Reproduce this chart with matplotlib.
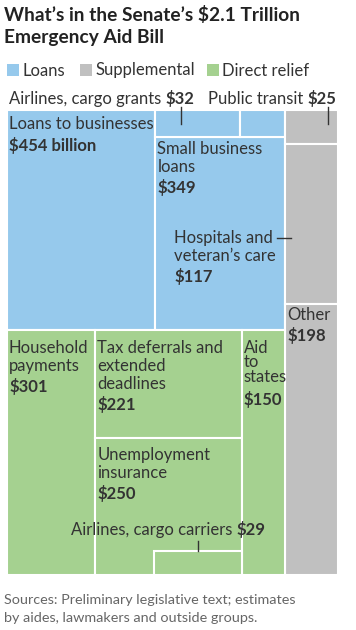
import matplotlib
matplotlib.use('Agg')
import matplotlib.pyplot as plt
from matplotlib.patches import Rectangle

plt.rcParams['font.family'] = ['Lato', 'DejaVu Sans']

# values in billions of dollars
loan_names = ['Loans to businesses', 'Small business\nloans', 'Airlines, cargo grants', '']
loan_vals = [454, 349, 32, 17]
supp_names = ['Public transit', 'Hospitals and\nveteran\u2019s care', 'Other']
supp_vals = [25, 117, 198]
direct_names = ['Household\npayments', 'Tax deferrals and\nextended\ndeadlines',
                'Unemployment\ninsurance', 'Aid\nto\nstates', 'Airlines, cargo carriers']
direct_vals = [301, 221, 250, 150, 29]
groups = ['Loans', 'Supplemental', 'Direct relief']

BLUE = '#96c9ec'
GRAY = '#c0c0c0'
GREEN = '#a5d190'
TXT = '#333333'
FS = 12

fig = plt.figure(figsize=(3.56, 6.30), dpi=100)
ax = fig.add_axes([0, 0, 1, 1])
ax.set_xlim(0, 356)
ax.set_ylim(630, 0)
ax.axis('off')
r = fig.canvas.get_renderer()


def slice_(x, y, w, h, vals, across):
    tot = float(sum(vals))
    out = []
    for v in vals:
        if across:
            dw = w * v / tot
            out.append((x, y, dw, h))
            x += dw
        else:
            dh = h * v / tot
            out.append((x, y, w, dh))
            y += dh
    return out


def box(rc, col):
    ax.add_patch(Rectangle((rc[0], rc[1]), rc[2], rc[3], facecolor=col,
                           edgecolor='white', lw=1.5))


def label(x, y, name, val, ls=1.15, gap=21):
    t = ax.text(x, y, name, fontsize=FS, color=TXT, va='top', linespacing=ls)
    bb = t.get_window_extent(r)
    ax.text(x, y + bb.height + gap - 17, '$%d' % val, fontsize=FS, color=TXT,
            va='top', fontweight='bold')


def inline(x, y, name, val):
    # name regular + value bold, right edge at x
    v = ax.text(x, y, '$%d' % val, fontsize=FS, color=TXT, ha='right',
                va='baseline', fontweight='bold')
    wv = v.get_window_extent(r).width
    ax.text(x - wv - 4, y, name, fontsize=FS, color=TXT, ha='right', va='baseline')


X0, Y0, W, H = 7, 110, 331, 465
left, supp_col = slice_(X0, Y0, W, H, [sum(loan_vals) + sum(direct_vals), sum(supp_vals)], True)
loan_area, direct_area = slice_(*left, [sum(loan_vals), sum(direct_vals)], False)
biz, rest = slice_(*loan_area, [loan_vals[0], sum(loan_vals[1:])], True)
strip, small = slice_(*rest, [loan_vals[2] + loan_vals[3], loan_vals[1]], False)
grants, natsec = slice_(*strip, [loan_vals[2], loan_vals[3]], True)
transit, hosp, other = slice_(*supp_col, supp_vals, False)
house, mid, states = slice_(*direct_area, [direct_vals[0], direct_vals[1] + direct_vals[2] + direct_vals[4],
                                           direct_vals[3]], True)
tax, unemp = slice_(*mid, [direct_vals[1], direct_vals[2] + direct_vals[4]], False)
cw = unemp[2] * 0.6
ch = unemp[2] * unemp[3] * direct_vals[4] / (direct_vals[2] + direct_vals[4]) / cw
carriers = (unemp[0] + unemp[2] - cw, unemp[1] + unemp[3] - ch, cw, ch)

for rc in [biz, small, grants, natsec]:
    box(rc, BLUE)
for rc in [transit, hosp, other]:
    box(rc, GRAY)
for rc in [house, tax, unemp, states, carriers]:
    box(rc, GREEN)

# cell labels
ax.text(biz[0] + 2, biz[1] + 6, loan_names[0], fontsize=FS, color=TXT, va='top')
ax.text(biz[0] + 2, biz[1] + 27, '$%d billion' % loan_vals[0], fontsize=FS, color=TXT,
        va='top', fontweight='bold')
label(small[0] + 2, small[1] + 4, loan_names[1], loan_vals[1])
label(other[0] + 2, other[1] + 3, supp_names[2], supp_vals[2])
label(house[0] + 2, house[1] + 10, direct_names[0], direct_vals[0])
label(tax[0] + 2, tax[1] + 10, direct_names[1], direct_vals[1])
label(unemp[0] + 2, unemp[1] + 9, direct_names[2], direct_vals[2])
label(states[0] + 2, states[1] + 10, direct_names[3], direct_vals[3], ls=0.9, gap=23)

# hospitals, label sits in the blue area with a leader
hy = hosp[1] + hosp[3] / 2 + 14
label(hosp[0] - 111, hy - 8, supp_names[1], supp_vals[1])
ax.plot([hosp[0] - 8, hosp[0] + 6], [hy, hy], color=TXT, lw=1)

# labels above the chart
gx = grants[0] + grants[2] * 0.3
ax.plot([gx, gx], [grants[1] - 3, grants[1] + 14], color=TXT, lw=1)
inline(gx + 13, 104, loan_names[2], loan_vals[2])
tx = transit[0] + transit[2] - 10
ax.plot([tx, tx], [transit[1] - 3, transit[1] + 14], color=TXT, lw=1)
inline(336, 104, supp_names[0], supp_vals[0])

cx = carriers[0] + carriers[2] / 2
ax.plot([cx, cx], [carriers[1] - 10, carriers[1]], color=TXT, lw=1)
inline(cx + 68, carriers[1] - 16, direct_names[4], direct_vals[4])

# title
ax.text(4, 21, 'What\u2019s in the Senate\u2019s $2.1 Trillion', fontsize=13.8, fontweight='bold',
        color='#222222', va='baseline')
ax.text(4, 43, 'Emergency Aid Bill', fontsize=13.8, fontweight='bold', color='#222222', va='baseline')

# legend
for lx, col, g in zip([7, 80, 207], [BLUE, GRAY, GREEN], groups):
    ax.add_patch(Rectangle((lx, 64), 12, 12, facecolor=col, edgecolor='none'))
    ax.text(lx + 15, 70.5, g, fontsize=FS, color=TXT, va='center')

ax.text(4, 604, 'Sources: Preliminary legislative text; estimates', fontsize=10.4, color='#666666',
        va='baseline')
ax.text(4, 622, 'by aides, lawmakers and outside groups.', fontsize=10.4, color='#666666',
        va='baseline')

fig.savefig('out.png', dpi=100)
